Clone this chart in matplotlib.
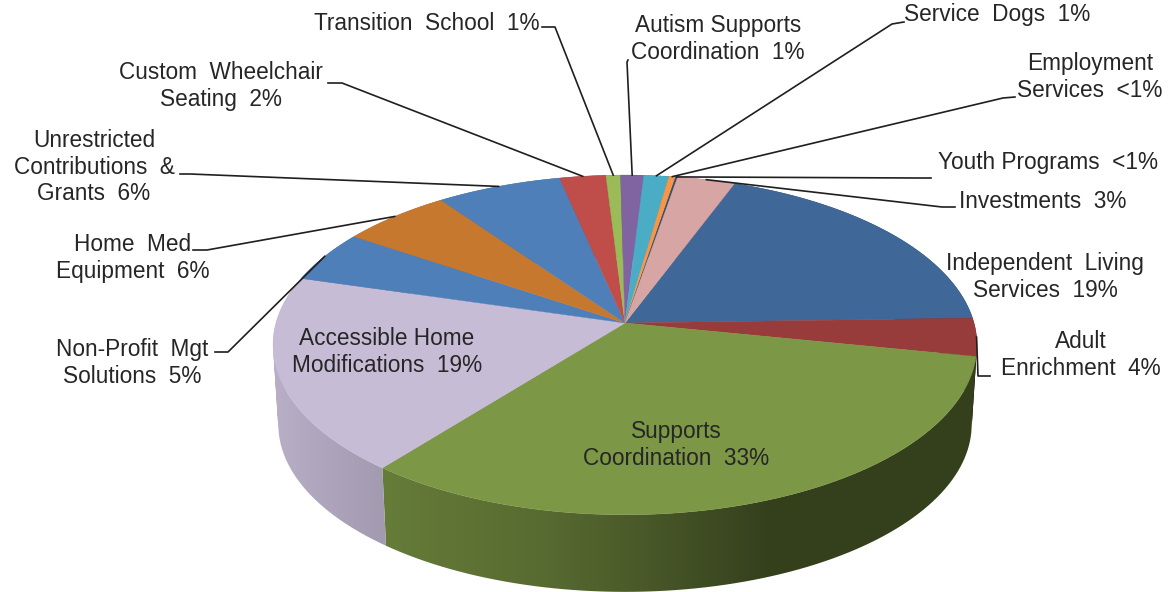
import numpy as np
import matplotlib
matplotlib.use('Agg')
import matplotlib.pyplot as plt
from matplotlib.patches import PathPatch
from matplotlib.path import Path

plt.rcParams['font.family'] = ['Liberation Sans', 'DejaVu Sans']

# slices, clockwise from the start angle (percent)
names = ['Independent Living', 'Adult Enrichment', 'Supports Coordination',
         'Accessible Home Modifications', 'Non-Profit Mgt Solutions',
         'Home Med Equipment', 'Unrestricted Contributions & Grants',
         'Custom Wheelchair Seating', 'Transition School',
         'Autism Supports Coordination', 'Service Dogs',
         'Employment Services', 'Youth Programs', 'Investments']
values = [18.8, 3.6, 32.6, 18.7, 4.9, 5.75, 6.5, 2.4, 0.75, 1.2, 1.3, 0.35, 0.1, 3.0]
colors = ['#3f6797', '#983c3b', '#7c9745', '#c6bcd6', '#4f7fb9', '#c6782f', '#4f7fb9',
          '#bf4e4a', '#9bbb59', '#8064a2', '#4bacc6', '#f79646', '#2c4d75', '#d8a5a5']
labels = ['Independent  Living\nServices  19%', 'Adult\nEnrichment  4%',
          'Supports\nCoordination  33%', 'Accessible Home\nModifications  19%',
          'Non-Profit  Mgt\nSolutions  5%', 'Home  Med\nEquipment  6%',
          'Unrestricted\nContributions  &\nGrants  6%', 'Custom  Wheelchair\nSeating  2%',
          'Transition  School  1%', 'Autism Supports\nCoordination  1%',
          'Service  Dogs  1%', 'Employment\nServices  <1%',
          'Youth Programs  <1%', 'Investments  3%']

# label centres, in picture pixels
label_pos = [(1045, 277), (1081, 355), (676, 445), (387, 352), (132, 363), (133, 258),
             (94, 167), (221, 86), (427, 24), (718, 39), (997, 14), (1090, 77),
             (1048, 163), (1043, 202)]
# leader: end at the label, elbow; None for the labels inside the pie
leaders = [None, [(990, 376), (978, 376)], None, None, [(215, 352), (228, 352)],
           [(193, 250), (207, 250)], [(180, 174), (190, 174)], [(328, 83), (342, 83)],
           [(542, 27), (555, 27)], [(628, 60), (627, 62)], [(904, 22), (892, 24)],
           [(1015, 97), (1003, 98)], [(931, 178), (918, 178)], [(955, 207), (942, 207)]]

# perspective of the pie
cx, cy = 625, 323
a, b, k = 349, 167, 0.129
start_angle = 20.6
depth, shrink = 80, 0.985
# wall shading against x
shade_x = [275, 384, 550, 650, 770, 975]
shade_f = [0.93, 0.82, 0.70, 0.58, 0.42, 0.42]


def rim(angle):
    t = np.radians(angle)
    X, Y = np.sin(t), np.cos(t)
    return cx + a * X / (1 + k * Y), cy - b * Y / (1 + k * Y)


def wall_path(angs):
    # one quad per step, all wound the same way so the silhouette stays filled
    xs, ys = rim(angs)
    xb = cx + shrink * (xs - cx)
    yb = cy + depth + shrink * (ys - cy)
    verts, codes = [], []
    for j in range(len(angs) - 1):
        q = [(xs[j], ys[j]), (xs[j + 1], ys[j + 1]), (xb[j + 1], yb[j + 1]), (xb[j], yb[j])]
        area = sum(q[n][0] * q[(n + 1) % 4][1] - q[(n + 1) % 4][0] * q[n][1] for n in range(4))
        if area < 0:
            q = q[::-1]
        verts += q + [q[0]]
        codes += [Path.MOVETO, Path.LINETO, Path.LINETO, Path.LINETO, Path.CLOSEPOLY]
    return Path(verts, codes)


fig = plt.figure(figsize=(11.73, 5.92), dpi=100)
ax = fig.add_axes([0, 0, 1, 1])

edges = start_angle + np.cumsum([0] + values) / sum(values) * 360
grid_x = np.arange(270, 985)
shade = np.interp(grid_x, shade_x, shade_f)

# side wall first, a horizontal gradient clipped to each slice
for i, col in enumerate(colors):
    patch = PathPatch(wall_path(np.linspace(edges[i], edges[i + 1], 80)),
                      transform=ax.transData, fc='none', ec='none')
    ax.add_patch(patch)
    img = np.outer(shade, matplotlib.colors.to_rgb(col))[None, :, :]
    im = ax.imshow(img, extent=(270, 985, 600, 150), aspect='auto', interpolation='bilinear')
    im.set_clip_path(patch)

# top faces
for i, col in enumerate(colors):
    angs = np.linspace(edges[i], edges[i + 1], 80)
    xs, ys = rim(angs)
    ax.fill(np.r_[cx, xs], np.r_[cy, ys], color=col, lw=0.3)

# leaders and labels
for i, txt in enumerate(labels):
    if leaders[i] is not None:
        x0, y0 = rim((edges[i] + edges[i + 1]) / 2)
        px = [p[0] for p in leaders[i]] + [x0]
        py = [p[1] for p in leaders[i]] + [y0]
        ax.plot(px, py, color='#1f1f1f', lw=1.2)
    ax.text(label_pos[i][0], label_pos[i][1], txt, ha='center', va='center',
            fontsize=16.3, color='#262626', linespacing=1.22, multialignment='center')

ax.set_xlim(0, 1173)
ax.set_ylim(592, 0)
ax.axis('off')
fig.savefig('out.png', dpi=100)
